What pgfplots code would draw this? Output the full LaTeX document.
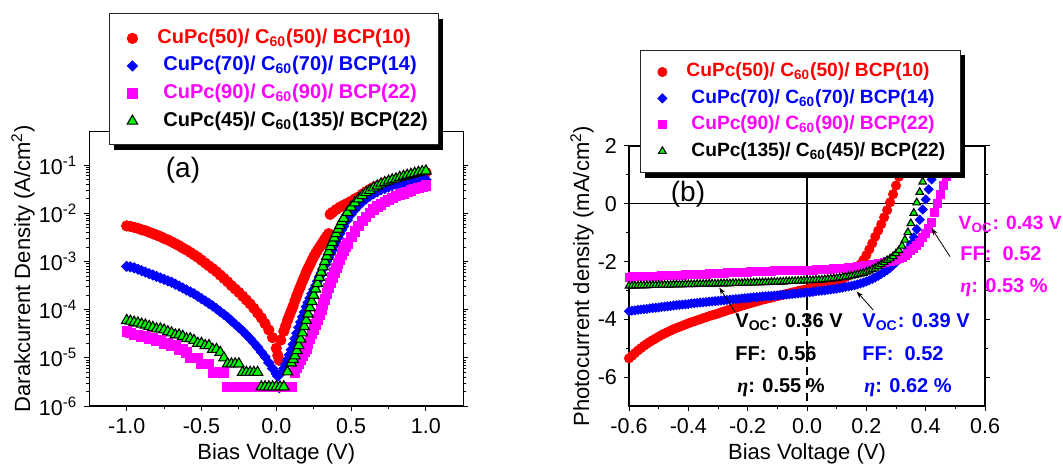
\documentclass[border=0pt]{standalone}
\usepackage{fontspec}
\setmainfont{Liberation Sans}
\newfontfamily\etafont{Liberation Serif}
\usepackage{pgfplots}
\pgfplotsset{compat=1.18}
\usetikzlibrary{arrows.meta}

\definecolor{cRed}{RGB}{255,0,0}
\definecolor{cBlue}{RGB}{0,0,255}
\definecolor{cMag}{RGB}{255,0,255}
\definecolor{cGrn}{RGB}{0,255,0}

\newcommand{\eff}{{\etafont\bfseries\itshape η}}
% legend frame with a solid offset shadow, given in rel axis cs
\newcommand{\legframe}[4]{%
  \fill[black] ([xshift=2.5pt,yshift=-2.5pt]rel axis cs:#1,#2) rectangle ([xshift=2.5pt,yshift=-2.5pt]rel axis cs:#3,#4);
  \filldraw[fill=white, draw=black!85, line width=0.5pt] (rel axis cs:#1,#2) rectangle (rel axis cs:#3,#4);
}

\pgfplotsset{
  panel/.style={
    scale only axis, anchor=south west,
    axis line style={line width=0.6pt},
    every tick/.style={black, line width=0.5pt},
    major tick length=2.5pt, minor tick length=1.5pt,
    tick align=outside,
    xtick pos=left,
    tick label style={font=\fontsize{10.75}{12}\selectfont},
    label style={font=\fontsize{11}{13}\selectfont},
    clip mode=individual,
    legend cell align=left,
  },
  sRed/.style={only marks, mark=*, color=cRed, mark options={fill=cRed, draw=cRed}},
  sBlue/.style={only marks, mark=square*, color=cBlue, mark options={fill=cBlue, draw=cBlue, rotate=45}},
  sMag/.style={only marks, mark=square*, color=cMag, mark options={fill=cMag, draw=cMag}},
  sGrn/.style={only marks, mark=triangle*, color=black, mark options={fill=cGrn, draw=black, line width=0.55pt}},
}

\begin{document}
\begin{tikzpicture}
\useasboundingbox (0,0) rectangle (531.5pt,232pt);

% ---------------- (a) dark current, log scale ----------------
\begin{axis}[
  panel,
  at={(44.65pt,29pt)}, width=187pt, height=137.2pt,
  xmin=-1.25, xmax=1.25,
  ymode=log, ymin=1e-6, ymax=0.5,
  xtick={-1,-0.5,0,0.5,1},
  xticklabels={-1.0,-0.5,0.0,0.5,1.0},
  minor x tick num=1,
  ytick={1e-6,1e-5,1e-4,1e-3,1e-2,1e-1},
  yticklabels={10\textsuperscript{-6},10\textsuperscript{-5},10\textsuperscript{-4},10\textsuperscript{-3},10\textsuperscript{-2},10\textsuperscript{-1}},
  xlabel={Bias Voltage (V)},
  ylabel={Darakcurrent Density (A/cm\textsuperscript{2})},
  xlabel style={at={(axis description cs:0.5,-0.1746)}, anchor=center},
  ylabel style={at={(axis description cs:-0.1773,0.5)}, anchor=center},
  legend style={
    at={(0.0527,1.4286)}, anchor=north west,
    draw=none, fill=none,
    inner xsep=4pt, inner ysep=7pt, row sep=3.8pt,
    font=\fontsize{10}{12}\selectfont\bfseries,
    nodes={inner sep=0pt, text height=7.5pt, text depth=2.5pt},
  },
  legend image code/.code={\path[draw=none,fill=none] (0pt,0pt) -- (20pt,0pt);\draw[#1] plot coordinates {(7.5pt,0pt)};},
]
\addplot+[sRed, mark size=2.6pt] coordinates {
(-1.000,5.50e-3) (-0.975,5.37e-3) (-0.950,5.13e-3) (-0.925,4.90e-3) (-0.900,4.57e-3)
(-0.875,4.37e-3) (-0.850,4.07e-3) (-0.825,3.80e-3) (-0.800,3.55e-3) (-0.775,3.31e-3)
(-0.750,3.02e-3) (-0.725,2.82e-3) (-0.700,2.57e-3) (-0.675,2.34e-3) (-0.650,2.14e-3)
(-0.625,1.91e-3) (-0.600,1.74e-3) (-0.575,1.55e-3) (-0.550,1.38e-3) (-0.525,1.23e-3)
(-0.500,1.07e-3) (-0.475,9.33e-4) (-0.450,8.13e-4) (-0.425,7.08e-4) (-0.400,6.17e-4)
(-0.375,5.25e-4) (-0.350,4.47e-4) (-0.325,3.80e-4) (-0.300,3.16e-4) (-0.275,2.69e-4)
(-0.250,2.29e-4) (-0.225,1.91e-4) (-0.200,1.59e-4) (-0.175,1.32e-4) (-0.150,1.07e-4)
(-0.125,8.51e-5) (-0.100,6.76e-5) (-0.075,5.13e-5) (-0.050,3.80e-5) (-0.025,2.63e-5)
(0.000,1.58e-5) (0.010,1.12e-5) (0.020,8.91e-6) (0.030,2.34e-5) (0.050,3.55e-5)
(0.0625,4.60e-5) (0.075,6.03e-5) (0.0875,7.60e-5) (0.100,9.55e-5) (0.1125,1.20e-4)
(0.125,1.55e-4) (0.1375,1.97e-4) (0.150,2.51e-4) (0.1625,3.10e-4) (0.175,3.89e-4)
(0.1875,4.80e-4) (0.200,6.03e-4) (0.2125,7.30e-4) (0.225,8.71e-4) (0.2375,1.05e-3)
(0.250,1.26e-3) (0.2625,1.47e-3) (0.275,1.70e-3) (0.2875,1.95e-3) (0.300,2.24e-3)
(0.3125,2.57e-3) (0.325,2.95e-3) (0.3375,3.35e-3) (0.350,3.80e-3)
(0.360,9.55e-3) (0.375,1.05e-2) (0.400,1.20e-2) (0.425,1.35e-2) (0.450,1.48e-2)
(0.475,1.62e-2) (0.500,1.78e-2) (0.525,2.00e-2) (0.550,2.19e-2) (0.575,2.51e-2)
(0.600,2.82e-2) (0.625,3.16e-2) (0.650,3.47e-2) (0.675,3.72e-2) (0.700,3.98e-2)
(0.725,4.27e-2) (0.750,4.47e-2) (0.775,4.79e-2) (0.800,5.01e-2) (0.825,5.25e-2)
(0.850,5.50e-2) (0.875,5.75e-2) (0.900,6.03e-2) (0.925,6.31e-2) (0.950,6.61e-2)
(0.975,6.92e-2) (1.000,7.08e-2)
};
\addlegendentry{\textcolor{cRed}{CuPc(50)/ C\textsubscript{60}(50)/ BCP(10)}}

\addplot+[sBlue, mark size=1.8pt] coordinates {
(-1.000,7.94e-4) (-0.975,7.76e-4) (-0.950,7.41e-4) (-0.925,6.92e-4) (-0.900,6.46e-4)
(-0.875,6.03e-4) (-0.850,5.62e-4) (-0.825,5.25e-4) (-0.800,4.90e-4) (-0.775,4.57e-4)
(-0.750,4.27e-4) (-0.725,3.98e-4) (-0.700,3.72e-4) (-0.675,3.39e-4) (-0.650,3.09e-4)
(-0.625,2.82e-4) (-0.600,2.57e-4) (-0.575,2.34e-4) (-0.550,2.14e-4) (-0.525,1.91e-4)
(-0.500,1.70e-4) (-0.475,1.51e-4) (-0.450,1.35e-4) (-0.425,1.20e-4) (-0.400,1.05e-4)
(-0.375,9.12e-5) (-0.350,7.94e-5) (-0.325,6.92e-5) (-0.300,5.89e-5) (-0.275,5.01e-5)
(-0.250,4.27e-5) (-0.225,3.63e-5) (-0.200,3.02e-5) (-0.175,2.51e-5) (-0.150,2.04e-5)
(-0.125,1.66e-5) (-0.100,1.32e-5) (-0.075,1.05e-5) (-0.050,7.94e-6) (-0.025,6.03e-6)
(0.000,4.68e-6) (0.010,4.17e-6) (0.020,2.40e-6) (0.030,4.79e-6) (0.050,6.03e-6)
(0.0625,7.24e-6) (0.075,9.12e-6) (0.0875,1.15e-5) (0.100,1.48e-5) (0.1125,1.91e-5)
(0.125,2.51e-5) (0.1375,3.24e-5) (0.150,4.27e-5) (0.1625,5.50e-5) (0.175,7.08e-5)
(0.1875,8.91e-5) (0.200,1.15e-4) (0.2125,1.41e-4) (0.225,1.74e-4) (0.2375,2.14e-4)
(0.250,2.63e-4) (0.2625,3.16e-4) (0.275,3.89e-4) (0.2875,4.79e-4) (0.300,5.75e-4)
(0.3125,7.08e-4) (0.325,8.51e-4) (0.3375,1.02e-3) (0.350,1.23e-3) (0.3625,1.48e-3)
(0.375,1.74e-3) (0.3875,2.14e-3) (0.400,2.57e-3) (0.4125,3.16e-3) (0.425,3.80e-3)
(0.4375,4.57e-3) (0.450,5.37e-3) (0.475,7.24e-3) (0.500,9.55e-3) (0.525,1.20e-2)
(0.550,1.45e-2) (0.575,1.74e-2) (0.600,2.00e-2) (0.625,2.29e-2) (0.650,2.57e-2)
(0.675,2.82e-2) (0.700,3.09e-2) (0.725,3.31e-2) (0.750,3.55e-2) (0.775,3.80e-2)
(0.800,3.98e-2) (0.825,4.17e-2) (0.850,4.27e-2) (0.875,4.47e-2) (0.900,4.57e-2)
(0.925,4.68e-2) (0.950,4.79e-2) (0.975,4.90e-2) (1.000,5.01e-2)
};
\addlegendentry{\hspace*{3pt}\textcolor{cBlue}{CuPc(70)/ C\textsubscript{60}(70)/ BCP(14)}}

\addplot+[sMag, mark size=2.4pt] coordinates {
(-1.000,3.5e-5) (-0.975,3.3e-5) (-0.950,3.0e-5) (-0.925,3.0e-5) (-0.900,2.8e-5)
(-0.875,2.8e-5) (-0.850,2.5e-5) (-0.825,2.5e-5) (-0.800,2.3e-5) (-0.775,2.3e-5)
(-0.750,2.0e-5) (-0.725,2.0e-5) (-0.700,1.8e-5) (-0.675,1.8e-5) (-0.650,1.5e-5)
(-0.625,1.5e-5) (-0.600,1.3e-5) (-0.575,1.0e-5) (-0.550,1.0e-5) (-0.525,1.0e-5)
(-0.500,7.5e-6) (-0.475,7.5e-6) (-0.450,7.5e-6) (-0.425,5.0e-6) (-0.400,5.0e-6)
(-0.375,5.0e-6) (-0.350,5.0e-6) (-0.325,2.5e-6) (-0.300,2.5e-6) (-0.275,2.5e-6)
(-0.250,2.5e-6) (-0.225,2.5e-6) (-0.200,2.5e-6) (-0.175,2.5e-6) (-0.150,2.5e-6)
(-0.125,2.5e-6) (-0.100,2.5e-6) (-0.075,2.5e-6) (-0.050,2.5e-6) (-0.025,2.5e-6)
(0.000,2.5e-6) (0.025,2.5e-6) (0.050,2.5e-6) (0.075,2.5e-6) (0.100,2.5e-6)
(0.125,5.0e-6) (0.1375,6.17e-6) (0.150,7.6e-6) (0.1625,9.12e-6) (0.175,1.10e-5)
(0.1875,1.32e-5) (0.200,1.58e-5) (0.2125,2.00e-5) (0.225,2.51e-5) (0.2375,3.16e-5)
(0.250,3.89e-5) (0.2625,5.01e-5) (0.275,6.31e-5) (0.2875,7.94e-5) (0.300,1.00e-4)
(0.3125,1.29e-4) (0.325,1.66e-4) (0.3375,2.19e-4) (0.350,2.82e-4) (0.3625,3.63e-4)
(0.375,4.68e-4) (0.3875,5.89e-4) (0.400,7.41e-4) (0.4125,9.12e-4) (0.425,1.12e-3)
(0.4375,1.38e-3) (0.450,1.66e-3) (0.4625,2.00e-3) (0.475,2.40e-3) (0.500,3.24e-3)
(0.525,4.27e-3) (0.550,5.50e-3) (0.575,6.92e-3) (0.600,8.51e-3) (0.625,1.02e-2)
(0.650,1.20e-2) (0.675,1.38e-2) (0.700,1.55e-2) (0.725,1.74e-2) (0.750,1.91e-2)
(0.775,2.09e-2) (0.800,2.29e-2) (0.825,2.45e-2) (0.850,2.63e-2) (0.875,2.82e-2)
(0.900,3.02e-2) (0.925,3.24e-2) (0.950,3.39e-2) (0.975,3.55e-2) (1.000,3.80e-2)
};
\addlegendentry{\hspace*{3pt}\textcolor{cMag}{CuPc(90)/ C\textsubscript{60}(90)/ BCP(22)}}

\addplot+[sGrn, mark size=3pt] coordinates {
(-1.000,6.0e-5) (-0.975,5.8e-5) (-0.950,5.5e-5) (-0.925,5.3e-5) (-0.900,5.0e-5)
(-0.875,4.8e-5) (-0.850,4.5e-5) (-0.825,4.3e-5) (-0.800,4.0e-5) (-0.775,4.0e-5)
(-0.750,3.8e-5) (-0.725,3.5e-5) (-0.700,3.3e-5) (-0.675,3.0e-5) (-0.650,3.0e-5)
(-0.625,2.8e-5) (-0.600,2.5e-5) (-0.575,2.5e-5) (-0.550,2.3e-5) (-0.525,2.0e-5)
(-0.500,2.0e-5) (-0.475,1.8e-5) (-0.450,1.8e-5) (-0.425,1.5e-5) (-0.400,1.5e-5)
(-0.375,1.3e-5) (-0.350,1.0e-5) (-0.325,7.5e-6) (-0.300,7.5e-6) (-0.275,7.5e-6)
(-0.250,7.5e-6) (-0.225,5.0e-6) (-0.200,5.0e-6) (-0.175,5.0e-6) (-0.150,5.0e-6)
(-0.125,5.0e-6) (-0.100,2.5e-6) (-0.075,2.5e-6) (-0.050,2.5e-6) (-0.025,2.5e-6)
(0.000,2.5e-6) (0.025,2.5e-6) (0.050,2.5e-6) (0.075,5.1e-6) (0.100,7.8e-6)
(0.1125,9.33e-6) (0.125,1.10e-5) (0.1375,1.41e-5) (0.150,1.80e-5) (0.1625,2.45e-5)
(0.175,3.30e-5) (0.1875,4.47e-5) (0.200,6.00e-5) (0.2125,8.13e-5) (0.225,1.10e-4)
(0.2375,1.48e-4) (0.250,2.00e-4) (0.2625,2.69e-4) (0.275,3.50e-4) (0.2875,4.68e-4)
(0.300,6.00e-4) (0.3125,7.76e-4) (0.325,1.00e-3) (0.3375,1.29e-3) (0.350,1.60e-3)
(0.3625,2.04e-3) (0.375,2.50e-3) (0.3875,3.09e-3) (0.400,3.80e-3) (0.4125,4.68e-3)
(0.425,5.60e-3) (0.4375,6.76e-3) (0.450,7.90e-3) (0.475,1.05e-2) (0.500,1.35e-2)
(0.525,1.66e-2) (0.550,2.00e-2) (0.575,2.34e-2) (0.600,2.70e-2) (0.625,3.00e-2)
(0.650,3.40e-2) (0.675,3.70e-2) (0.700,4.10e-2) (0.725,4.40e-2) (0.750,4.70e-2)
(0.775,5.00e-2) (0.800,5.20e-2) (0.825,5.60e-2) (0.850,5.90e-2) (0.875,6.20e-2)
(0.900,6.50e-2) (0.925,6.80e-2) (0.950,7.10e-2) (0.975,7.40e-2) (1.000,7.60e-2)
};
\addlegendentry{\hspace*{3pt}\textcolor{black}{CuPc(45)/ C\textsubscript{60}(135)/ BCP(22)}}

\node[font=\fontsize{14}{16}\selectfont] at (rel axis cs:0.2505,0.86) {(a)};
\legframe{0.0527}{0.9512}{0.9324}{1.4286}
\end{axis}

% ---------------- (b) photocurrent ----------------
\begin{axis}[
  panel,
  at={(314.5pt,29pt)}, width=178pt, height=130pt,
  xmin=-0.6, xmax=0.6, ymin=-7, ymax=2,
  xtick={-0.6,-0.4,-0.2,0,0.2,0.4,0.6},
  xticklabels={-0.6,-0.4,-0.2,0.0,0.2,0.4,0.6},
  minor x tick num=1,
  ytick={-6,-4,-2,0,2},
  yticklabels={-6,-4,-2,0,2},
  minor y tick num=1,
  xlabel={Bias Voltage (V)},
  ylabel={Photocurrent density (mA/cm\textsuperscript{2})},
  xlabel style={at={(axis description cs:0.5,-0.1844)}, anchor=center},
  ylabel style={at={(axis description cs:-0.132,0.5)}, anchor=center},
  legend style={
    at={(0.0309,1.3692)}, anchor=north west,
    draw=none, fill=none,
    inner xsep=4pt, inner ysep=6pt, row sep=3.6pt,
    font=\fontsize{9.6}{11}\selectfont\bfseries,
    nodes={inner sep=0pt, text height=7.2pt, text depth=2.4pt},
  },
  legend image code/.code={\path[draw=none,fill=none] (0pt,0pt) -- (19pt,0pt);\draw[#1] plot coordinates {(7pt,0pt)};},
]
% reference lines through the origin
\draw[line width=0.6pt] (axis cs:-0.6,0) -- (axis cs:0.6,0);
\draw[line width=0.6pt] (axis cs:0,2) -- (axis cs:0,-3.4);
\draw[line width=0.6pt, dash pattern=on 4pt off 2.5pt] (axis cs:0,-3.4) -- (axis cs:0,-7);

\addplot+[sRed, mark size=2.3pt] coordinates {
(-0.60,-5.35) (-0.59,-5.26) (-0.58,-5.17) (-0.57,-5.08) (-0.56,-5.00) (-0.55,-4.92)
(-0.54,-4.85) (-0.53,-4.78) (-0.52,-4.72) (-0.51,-4.66) (-0.50,-4.60) (-0.49,-4.54)
(-0.48,-4.49) (-0.47,-4.44) (-0.46,-4.39) (-0.45,-4.34) (-0.44,-4.30) (-0.43,-4.26)
(-0.42,-4.22) (-0.41,-4.18) (-0.40,-4.14) (-0.39,-4.10) (-0.38,-4.07) (-0.37,-4.03)
(-0.36,-4.00) (-0.35,-3.96) (-0.34,-3.93) (-0.33,-3.89) (-0.32,-3.86) (-0.31,-3.83)
(-0.30,-3.80) (-0.29,-3.76) (-0.28,-3.73) (-0.27,-3.69) (-0.26,-3.66) (-0.25,-3.63)
(-0.24,-3.60) (-0.23,-3.56) (-0.22,-3.53) (-0.21,-3.50) (-0.20,-3.47) (-0.19,-3.44)
(-0.18,-3.41) (-0.17,-3.38) (-0.16,-3.35) (-0.15,-3.32) (-0.14,-3.30) (-0.13,-3.27)
(-0.12,-3.25) (-0.11,-3.22) (-0.10,-3.20) (-0.09,-3.17) (-0.08,-3.15) (-0.07,-3.12)
(-0.06,-3.10) (-0.05,-3.07) (-0.04,-3.05) (-0.03,-3.02) (-0.02,-3.00) (-0.01,-2.98)
(0.00,-2.96) (0.01,-2.93) (0.02,-2.91) (0.03,-2.89) (0.04,-2.87) (0.05,-2.84)
(0.06,-2.82) (0.07,-2.79) (0.08,-2.76) (0.09,-2.72) (0.10,-2.69) (0.11,-2.65)
(0.12,-2.60) (0.13,-2.54) (0.14,-2.48) (0.15,-2.41) (0.16,-2.32) (0.17,-2.22)
(0.18,-2.10) (0.19,-1.95) (0.20,-1.78) (0.21,-1.58) (0.22,-1.37) (0.23,-1.14)
(0.24,-0.93) (0.25,-0.71) (0.26,-0.47) (0.27,-0.22) (0.28,0.05) (0.29,0.33)
(0.30,0.63) (0.31,0.94) (0.32,1.26) (0.33,1.60) (0.34,1.95) (0.35,2.32)
};
\addlegendentry{\textcolor{cRed}{CuPc(50)/ C\textsubscript{60}(50)/ BCP(10)}}

\addplot+[sBlue, mark size=1.6pt] coordinates {
(-0.60,-3.72) (-0.59,-3.70) (-0.58,-3.69) (-0.57,-3.67) (-0.56,-3.66) (-0.55,-3.65)
(-0.54,-3.64) (-0.53,-3.62) (-0.52,-3.61) (-0.51,-3.60) (-0.50,-3.59) (-0.49,-3.57)
(-0.48,-3.56) (-0.47,-3.55) (-0.46,-3.54) (-0.45,-3.52) (-0.44,-3.51) (-0.43,-3.50)
(-0.42,-3.49) (-0.41,-3.48) (-0.40,-3.47) (-0.39,-3.45) (-0.38,-3.44) (-0.37,-3.43)
(-0.36,-3.42) (-0.35,-3.41) (-0.34,-3.40) (-0.33,-3.39) (-0.32,-3.38) (-0.31,-3.37)
(-0.30,-3.36) (-0.29,-3.35) (-0.28,-3.34) (-0.27,-3.33) (-0.26,-3.32) (-0.25,-3.31)
(-0.24,-3.30) (-0.23,-3.29) (-0.22,-3.28) (-0.21,-3.27) (-0.20,-3.26) (-0.19,-3.25)
(-0.18,-3.24) (-0.17,-3.23) (-0.16,-3.22) (-0.15,-3.21) (-0.14,-3.20) (-0.13,-3.19)
(-0.12,-3.19) (-0.11,-3.18) (-0.10,-3.17) (-0.09,-3.16) (-0.08,-3.15) (-0.07,-3.14)
(-0.06,-3.13) (-0.05,-3.12) (-0.04,-3.11) (-0.03,-3.10) (-0.02,-3.09) (-0.01,-3.08)
(0.00,-3.07) (0.01,-3.06) (0.02,-3.05) (0.03,-3.03) (0.04,-3.02) (0.05,-3.01)
(0.06,-3.00) (0.07,-2.98) (0.08,-2.97) (0.09,-2.95) (0.10,-2.94) (0.11,-2.92)
(0.12,-2.90) (0.13,-2.88) (0.14,-2.86) (0.15,-2.84) (0.16,-2.82) (0.17,-2.79)
(0.18,-2.76) (0.19,-2.73) (0.20,-2.69) (0.21,-2.65) (0.22,-2.60) (0.23,-2.55)
(0.24,-2.49) (0.25,-2.43) (0.26,-2.37) (0.27,-2.30) (0.28,-2.22) (0.29,-2.13)
(0.30,-2.03) (0.31,-1.92) (0.32,-1.83) (0.33,-1.72) (0.34,-1.57) (0.35,-1.40)
(0.36,-1.16) (0.37,-0.88) (0.38,-0.55) (0.39,-0.20) (0.40,0.15) (0.41,0.50)
(0.42,0.84) (0.43,1.18) (0.44,1.52) (0.45,1.86) (0.46,2.20)
};
\addlegendentry{\hspace*{2.5pt}\textcolor{cBlue}{CuPc(70)/ C\textsubscript{60}(70)/ BCP(14)}}

\addplot+[sMag, mark size=2pt] coordinates {
(-0.60,-2.54) (-0.59,-2.53) (-0.58,-2.53) (-0.57,-2.52) (-0.56,-2.52) (-0.55,-2.52)
(-0.54,-2.52) (-0.53,-2.51) (-0.52,-2.51) (-0.51,-2.50) (-0.50,-2.50) (-0.49,-2.49)
(-0.48,-2.49) (-0.47,-2.49) (-0.46,-2.49) (-0.45,-2.48) (-0.44,-2.48) (-0.43,-2.47)
(-0.42,-2.47) (-0.41,-2.46) (-0.40,-2.46) (-0.39,-2.45) (-0.38,-2.45) (-0.37,-2.44)
(-0.36,-2.44) (-0.35,-2.43) (-0.34,-2.43) (-0.33,-2.42) (-0.32,-2.42) (-0.31,-2.41)
(-0.30,-2.41) (-0.29,-2.40) (-0.28,-2.40) (-0.27,-2.39) (-0.26,-2.39) (-0.25,-2.38)
(-0.24,-2.38) (-0.23,-2.37) (-0.22,-2.37) (-0.21,-2.36) (-0.20,-2.36) (-0.19,-2.35)
(-0.18,-2.35) (-0.17,-2.34) (-0.16,-2.34) (-0.15,-2.34) (-0.14,-2.34) (-0.13,-2.33)
(-0.12,-2.33) (-0.11,-2.32) (-0.10,-2.32) (-0.09,-2.32) (-0.08,-2.32) (-0.07,-2.31)
(-0.06,-2.31) (-0.05,-2.31) (-0.04,-2.31) (-0.03,-2.30) (-0.02,-2.30) (-0.01,-2.30)
(0.00,-2.30) (0.01,-2.29) (0.02,-2.29) (0.03,-2.28) (0.04,-2.28) (0.05,-2.27)
(0.06,-2.27) (0.07,-2.26) (0.08,-2.26) (0.09,-2.25) (0.10,-2.25) (0.11,-2.24)
(0.12,-2.23) (0.13,-2.22) (0.14,-2.21) (0.15,-2.20) (0.16,-2.19) (0.17,-2.18)
(0.18,-2.17) (0.19,-2.15) (0.20,-2.14) (0.21,-2.12) (0.22,-2.11) (0.23,-2.09)
(0.24,-2.07) (0.25,-2.05) (0.26,-2.03) (0.27,-2.00) (0.28,-1.98) (0.29,-1.95)
(0.30,-1.92) (0.31,-1.88) (0.32,-1.84) (0.33,-1.78) (0.34,-1.71) (0.35,-1.63)
(0.36,-1.54) (0.37,-1.44) (0.38,-1.32) (0.39,-1.17) (0.40,-1.02) (0.41,-0.85)
(0.42,-0.64) (0.43,-0.30) (0.44,0.00) (0.45,0.32) (0.46,0.64) (0.47,0.96)
(0.48,1.28) (0.49,1.60) (0.50,1.92) (0.51,2.24)
};
\addlegendentry{\hspace*{2.5pt}\textcolor{cMag}{CuPc(90)/ C\textsubscript{60}(90)/ BCP(22)}}

\addplot+[sGrn, mark size=2.2pt] coordinates {
(-0.60,-2.84) (-0.59,-2.84) (-0.58,-2.84) (-0.57,-2.83) (-0.56,-2.83) (-0.55,-2.83)
(-0.54,-2.83) (-0.53,-2.82) (-0.52,-2.82) (-0.51,-2.82) (-0.50,-2.82) (-0.49,-2.81)
(-0.48,-2.81) (-0.47,-2.81) (-0.46,-2.81) (-0.45,-2.80) (-0.44,-2.80) (-0.43,-2.80)
(-0.42,-2.80) (-0.41,-2.79) (-0.40,-2.79) (-0.39,-2.79) (-0.38,-2.79) (-0.37,-2.78)
(-0.36,-2.78) (-0.35,-2.78) (-0.34,-2.78) (-0.33,-2.77) (-0.32,-2.77) (-0.31,-2.77)
(-0.30,-2.77) (-0.29,-2.76) (-0.28,-2.76) (-0.27,-2.76) (-0.26,-2.76) (-0.25,-2.75)
(-0.24,-2.75) (-0.23,-2.75) (-0.22,-2.75) (-0.21,-2.74) (-0.20,-2.74) (-0.19,-2.74)
(-0.18,-2.73) (-0.17,-2.73) (-0.16,-2.73) (-0.15,-2.72) (-0.14,-2.72) (-0.13,-2.72)
(-0.12,-2.71) (-0.11,-2.71) (-0.10,-2.71) (-0.09,-2.70) (-0.08,-2.70) (-0.07,-2.69)
(-0.06,-2.69) (-0.05,-2.68) (-0.04,-2.68) (-0.03,-2.67) (-0.02,-2.67) (-0.01,-2.66)
(0.00,-2.66) (0.01,-2.65) (0.02,-2.65) (0.03,-2.64) (0.04,-2.64) (0.05,-2.63)
(0.06,-2.62) (0.07,-2.61) (0.08,-2.60) (0.09,-2.59) (0.10,-2.58) (0.11,-2.56)
(0.12,-2.55) (0.13,-2.53) (0.14,-2.52) (0.15,-2.50) (0.16,-2.48) (0.17,-2.45)
(0.18,-2.43) (0.19,-2.40) (0.20,-2.36) (0.21,-2.32) (0.22,-2.27) (0.23,-2.22)
(0.24,-2.16) (0.25,-2.10) (0.26,-2.03) (0.27,-1.96) (0.28,-1.90) (0.29,-1.82)
(0.30,-1.72) (0.31,-1.61) (0.32,-1.46) (0.33,-1.25) (0.34,-0.99) (0.35,-0.68)
(0.36,-0.32) (0.37,0.04) (0.38,0.40) (0.39,0.76) (0.40,1.12) (0.41,1.48)
(0.42,1.84) (0.43,2.20)
};
\addlegendentry{\hspace*{2.5pt}\textcolor{black}{CuPc(135)/ C\textsubscript{60}(45)/ BCP(22)}}

\node[font=\fontsize{14}{16}\selectfont] at (rel axis cs:0.1657,0.8154) {(b)};

% device parameters
\begin{scope}[font=\fontsize{10}{12}\selectfont\bfseries, every node/.style={inner sep=0pt, anchor=base west}]
\node[text=cMag, font=\fontsize{9.6}{12}\selectfont\bfseries] at (axis cs:0.510,-0.88) {V\textsubscript{OC}: 0.43 V};
\node[text=cMag] at (axis cs:0.5157,-1.95) {FF:\ \ 0.52};
\node[text=cMag] at (axis cs:0.5157,-3.06) {\eff: 0.53 \%};
\node[text=black] at (axis cs:-0.2427,-4.27) {V\textsubscript{OC}: 0.36 V};
\node[text=black] at (axis cs:-0.2427,-5.43) {FF:\ \ 0.56};
\node[text=black] at (axis cs:-0.236,-6.52) {\eff: 0.55 \%};
\node[text=cBlue] at (axis cs:0.1854,-4.27) {V\textsubscript{OC}: 0.39 V};
\node[text=cBlue] at (axis cs:0.1854,-5.43) {FF:\ \ 0.52};
\node[text=cBlue] at (axis cs:0.1921,-6.52) {\eff: 0.62 \%};
\end{scope}
\draw[line width=0.4pt, -{Stealth[length=3.5pt,width=2.5pt]}] (axis cs:0.482,-1.83) -- (axis cs:0.4203,-0.85);
\draw[line width=0.4pt, -{Stealth[length=3.5pt,width=2.5pt]}] (axis cs:-0.2427,-3.74) -- (axis cs:-0.2956,-2.90);
\draw[line width=0.4pt, -{Stealth[length=3.5pt,width=2.5pt]}] (axis cs:0.2235,-3.68) -- (axis cs:0.1675,-3.04);
\legframe{0.0309}{0.8962}{0.9298}{1.3692}
\end{axis}
\end{tikzpicture}
\end{document}
